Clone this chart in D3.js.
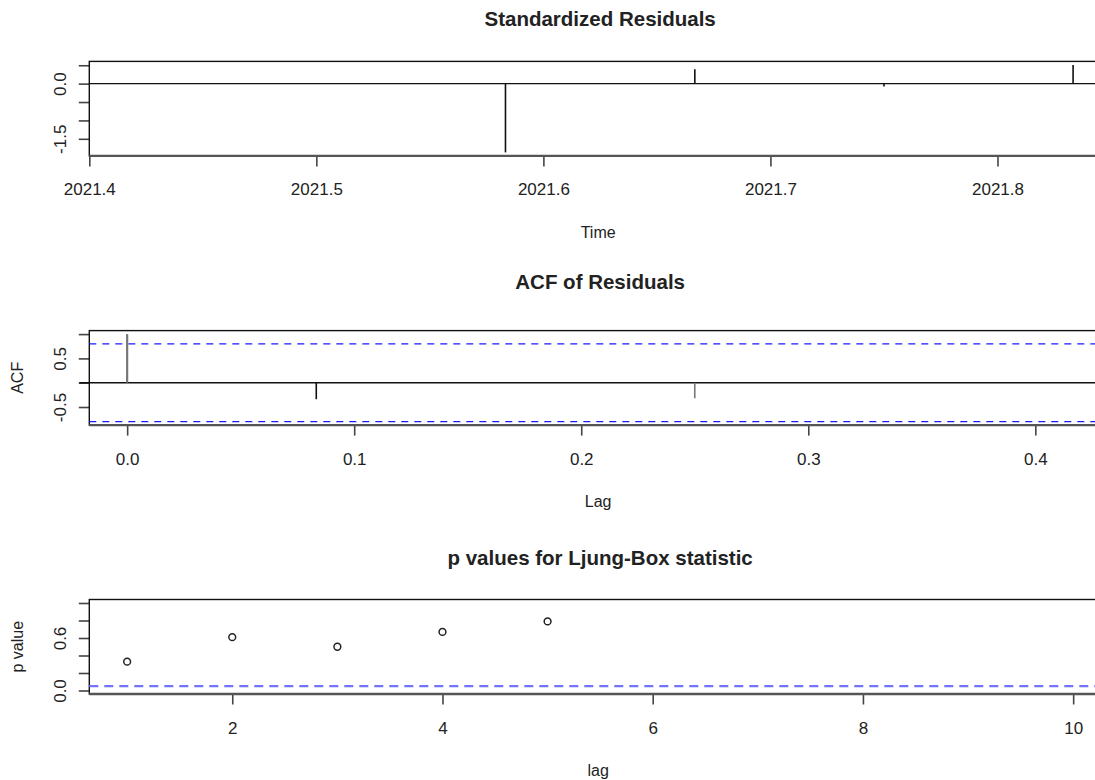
<!DOCTYPE html>
<html><head><meta charset="utf-8">
<script src="https://cdn.jsdelivr.net/npm/d3@7"></script>
<style>
html,body{margin:0;padding:0;background:#fff;overflow:hidden}
text{font-family:"Liberation Sans",Arial,sans-serif;fill:#222}
</style></head>
<body>
<svg id="chart" width="1095" height="780"></svg>
<script>
// ---- data ----
const titles = ["Standardized Residuals", "ACF of Residuals", "p values for Ljung-Box statistic"];
const xLabels = ["Time", "Lag", "lag"];
const yLabels = ["", "ACF", "p value"];

const residTime = [2021.4167, 2021.5, 2021.5833, 2021.6667, 2021.75, 2021.8333];
const residValues = [0, 0, -1.87, 0.39, -0.08, 0.51];
const residXTicks = [2021.4, 2021.5, 2021.6, 2021.7, 2021.8];
const residYTicks = [-1.5, -1.0, -0.5, 0.0, 0.5];
const residYTickLabels = ["-1.5", "", "", "0.0", ""];

const acfLag = [0, 0.0833, 0.1667, 0.25, 0.3333, 0.4167];
const acfValues = [1.0, -0.34, 0.01, -0.32, 0.01, 0.01];
const acfCI = [0.80, -0.80];
const acfXTicks = [0.0, 0.1, 0.2, 0.3, 0.4];
const acfYTicks = [-0.5, 0.0, 0.5, 1.0];
const acfYTickLabels = ["-0.5", "", "0.5", ""];

const lbLag = [1, 2, 3, 4, 5];
const lbP = [0.33, 0.61, 0.50, 0.67, 0.79];
const lbThreshold = [0.05];
const lbXTicks = [2, 4, 6, 8, 10];
const lbYTicks = [0.0, 0.2, 0.4, 0.6, 0.8, 1.0];
const lbYTickLabels = ["0.0", "", "", "0.6", "", ""];

// ---- layout ----
const svg = d3.select("#chart");
const left = 89.3, right = 1111;
const panelTop = [61.4, 330.6, 599.5];
const titleGap = [35, 42, 35];
const panelH = 94.5;

function panel(i, xDomain, yDomain, xTicks, xFmt, yTicks, yTickLabels) {
  const top = panelTop[i], bottom = top + panelH;
  const x = d3.scaleLinear().domain(xDomain).range([left, right]);
  const y = d3.scaleLinear().domain(yDomain).range([bottom, top]);
  const g = svg.append("g");
  // title
  g.append("text").attr("x", (left + right) / 2).attr("y", top - titleGap[i])
    .attr("text-anchor", "middle").style("font-size", "20.5px").style("font-weight", "bold")
    .text(titles[i]);
  // x axis
  const xa = g.append("g").attr("transform", `translate(0,${bottom})`)
    .call(d3.axisBottom(x).tickValues(xTicks).tickFormat(xFmt).tickSize(10.5).tickPadding(17));
  xa.select(".domain").remove();
  xa.selectAll(".tick line").attr("stroke", "#444").attr("stroke-width", 1.6);
  xa.selectAll(".tick text").style("font-size", "17px").attr("fill", "#222").style("font-family", "Liberation Sans, Arial, sans-serif");
  // y axis
  const ya = g.append("g").attr("transform", `translate(${left},0)`)
    .call(d3.axisLeft(y).tickValues(yTicks).tickFormat((d, k) => yTickLabels[k]).tickSize(10.5).tickPadding(0));
  ya.select(".domain").remove();
  ya.selectAll(".tick line").attr("stroke", "#444").attr("stroke-width", 1.6);
  ya.selectAll(".tick text").style("font-size", "17px").attr("fill", "#222")
    .style("font-family", "Liberation Sans, Arial, sans-serif")
    .attr("text-anchor", "middle").attr("x", 0).attr("dy", 0)
    .attr("transform", "translate(-23,0) rotate(-90)");
  // axis labels
  g.append("text").attr("x", (left + right) / 2 - 2).attr("y", bottom + 82)
    .attr("text-anchor", "middle").style("font-size", "16px").text(xLabels[i]);
  if (yLabels[i]) {
    g.append("text").attr("transform", `translate(23,${(top + bottom) / 2}) rotate(-90)`)
      .attr("text-anchor", "middle").style("font-size", "16px").text(yLabels[i]);
  }
  // box
  g.append("rect").attr("x", left).attr("y", top).attr("width", right - left).attr("height", panelH)
    .attr("fill", "none").attr("stroke", "#111").attr("stroke-width", 1.4);
  g.append("line").attr("x1", left).attr("x2", right).attr("y1", bottom).attr("y2", bottom)
    .attr("stroke", "#555").attr("stroke-width", 2.4);
  return {g, x, y, top, bottom};
}

// Panel 1: standardized residuals
{
  const p = panel(0, [2021.4, 2021.85], [-1.965, 0.605], residXTicks, d3.format(".1f"), residYTicks, residYTickLabels);
  p.g.append("line").attr("x1", left).attr("x2", right).attr("y1", p.y(0)).attr("y2", p.y(0))
    .attr("stroke", "#111").attr("stroke-width", 1.4);
  p.g.selectAll(".spike").data(residTime).join("line").attr("class", "spike")
    .attr("x1", d => p.x(d)).attr("x2", d => p.x(d))
    .attr("y1", p.y(0)).attr("y2", (d, k) => p.y(residValues[k]))
    .attr("stroke", "#111").attr("stroke-width", 1.6);
}

// Panel 2: ACF
{
  const p = panel(1, [-0.01667, 0.43333], [-0.872, 1.072], acfXTicks, d3.format(".1f"), acfYTicks, acfYTickLabels);
  p.g.selectAll(".ci").data(acfCI).join("line").attr("class", "ci")
    .attr("x1", left).attr("x2", right).attr("y1", d => p.y(d)).attr("y2", d => p.y(d))
    .attr("stroke", "#1a1aff").attr("stroke-width", 1.3).attr("stroke-dasharray", "7,6");
  p.g.append("line").attr("x1", left - 10).attr("x2", right).attr("y1", p.y(0)).attr("y2", p.y(0))
    .attr("stroke", "#111").attr("stroke-width", 1.4);
  p.g.selectAll(".spike").data(acfLag).join("line").attr("class", "spike")
    .attr("x1", d => p.x(d)).attr("x2", d => p.x(d))
    .attr("y1", p.y(0)).attr("y2", (d, k) => p.y(acfValues[k]))
    .attr("stroke", (d, k) => k === 0 || k === 3 ? "#777" : "#111").attr("stroke-width", (d, k) => k === 0 ? 2.2 : 1.6);
}

// Panel 3: Ljung-Box p values
{
  const p = panel(2, [0.64, 10.36], [-0.04, 1.04], lbXTicks, d3.format("d"), lbYTicks, lbYTickLabels);
  p.g.selectAll(".thr").data(lbThreshold).join("line").attr("class", "thr")
    .attr("x1", left).attr("x2", right).attr("y1", d => p.y(d)).attr("y2", d => p.y(d))
    .attr("stroke", "#7373ff").attr("stroke-width", 2.2).attr("stroke-dasharray", "9,6");
  p.g.selectAll(".pt").data(lbLag).join("circle").attr("class", "pt")
    .attr("cx", d => p.x(d)).attr("cy", (d, k) => p.y(lbP[k])).attr("r", 3.4)
    .attr("fill", "none").attr("stroke", "#222").attr("stroke-width", 1.5);
}
</script>
</body></html>
